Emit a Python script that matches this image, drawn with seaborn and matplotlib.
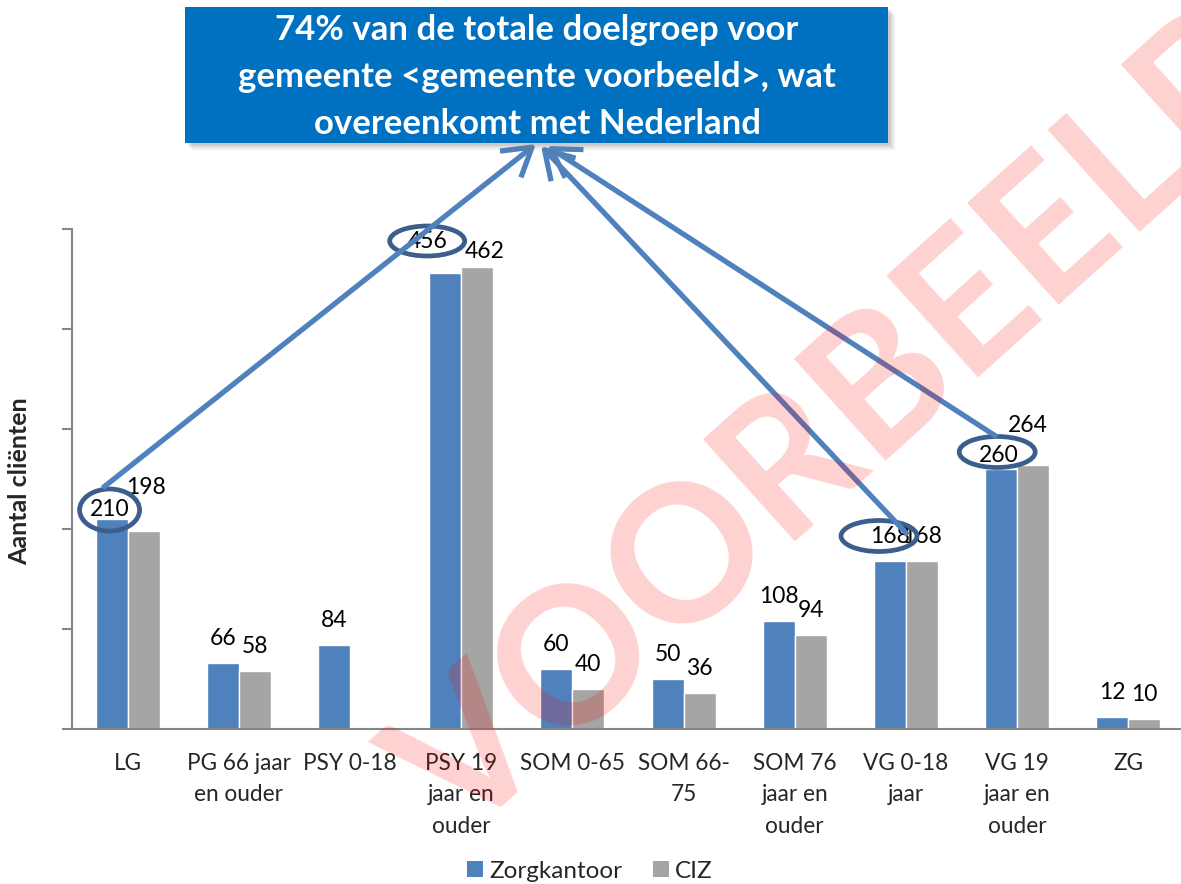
import numpy as np
import pandas as pd
import matplotlib
matplotlib.use("Agg")
import matplotlib.pyplot as plt
import seaborn as sns
from matplotlib.patches import Ellipse, Rectangle, FancyArrowPatch, Patch
from matplotlib.transforms import Affine2D

# ---------------- data ----------------
categories = ["LG", "PG 66 jaar\nen ouder", "PSY 0-18", "PSY 19\njaar en\nouder",
              "SOM 0-65", "SOM 66-\n75", "SOM 76\njaar en\nouder", "VG 0-18\njaar",
              "VG 19\njaar en\nouder", "ZG"]
zorgkantoor = [210, 66, 84, 456, 60, 50, 108, 168, 260, 12]
ciz = [198, 58, np.nan, 462, 40, 36, 94, 168, 264, 10]
series = ["Zorgkantoor", "CIZ"]
y_ticks = [0, 100, 200, 300, 400, 500]
y_label = "Aantal cliënten"
callout_text = "74% van de totale doelgroep voor\ngemeente <gemeente voorbeeld>, wat\novereenkomt met Nederland"
watermark_text = "VOORBEELD"

# ---------------- styles ----------------
colors = ["#4F81BD", "#A5A5A5"]
W, H = 1181, 884
sns.set_theme(style="white")
plt.rcParams["font.family"] = ["Lato", "DejaVu Sans"]

df = pd.DataFrame({
    "categorie": categories * 2,
    "reeks": [series[0]] * len(categories) + [series[1]] * len(categories),
    "waarde": zorgkantoor + ciz,
})

fig = plt.figure(figsize=(W / 100, H / 100), dpi=100)
ax = fig.add_axes([72 / W, 1 - 729 / H, (1184 - 72) / W, (729 - 229) / H])
PX = Affine2D().scale(1 / W, -1 / H).translate(0, 1) + fig.transFigure

sns.barplot(data=df, x="categorie", y="waarde", hue="reeks", order=categories,
            hue_order=series, palette=colors, saturation=1, width=0.576,
            errorbar=None, legend=False, ax=ax)

ax.set_xlim(-0.5, len(categories) - 0.5)
ax.set_ylim(y_ticks[0], y_ticks[-1])
ax.set_yticks(y_ticks)
ax.set_yticklabels([])
ax.set_xlabel("")
ax.set_ylabel("")
ax.set_xticks(range(len(categories)))
ax.set_xticklabels(categories, fontsize=16.3, linespacing=1.64)
ax.set_xticks(np.arange(-0.5, len(categories), 1), minor=True)
ax.tick_params(axis="x", which="major", length=0, pad=17)
ax.tick_params(axis="x", which="minor", length=7, width=1.5, color="#868686", direction="out")
ax.tick_params(axis="y", length=7, width=1.5, color="#868686", direction="out", left=True)
for s in ["top", "right"]:
    ax.spines[s].set_visible(False)
for s in ["left", "bottom"]:
    ax.spines[s].set_color("#868686")
    ax.spines[s].set_linewidth(1.5)
ax.grid(False)

# label offsets (pixels, label centre relative to bar top centre)
label_offset = {("Zorgkantoor", 0): (-2, 11), ("CIZ", 0): (2, 46),
                ("Zorgkantoor", 3): (-18, 33), ("CIZ", 3): (7, 18),
                ("Zorgkantoor", 8): (-2, 15), ("CIZ", 8): (-5, 42)}
default_offset = (0, 26.5)

bar_tops = {}
for name, cont in zip(series, ax.containers):
    for bar in cont:
        h = bar.get_height()
        if h is None or np.isnan(h):
            continue
        xc = bar.get_x() + bar.get_width() / 2
        idx = int(round(xc))
        bar_tops[(name, idx)] = (xc, h)
        dx, dy = label_offset.get((name, idx), default_offset)
        ax.annotate(f"{h:g}", xy=(xc, h), xytext=(dx * 0.72, (dy - 8.5) * 0.72),
                    textcoords="offset points", ha="center", va="baseline",
                    fontsize=16.5, color="black", zorder=5)

fig.canvas.draw()


def data_px(x, y):
    return PX.inverted().transform(ax.transData.transform((x, y)))


# highlight ellipses: (category index, centre offset px, size px, arrow start offset px)
highlights = [(0, (-2, -9), (60, 42), (-7, -22)),
              (3, (-18, -32), (75, 30), None),
              (7, (-11, -25), (76, 31), (29, -1)),
              (8, (-4, -17), (76, 31), (0, -15))]
arrow_ends = {0: (536, 144), 7: (541, 146), 8: (547, 146)}
for idx, off, size, aoff in highlights:
    xc, h = bar_tops[("Zorgkantoor", idx)]
    px, py = data_px(xc, h)
    cx, cy = px + off[0], py + off[1]
    fig.add_artist(Ellipse((cx, cy), size[0], size[1], transform=PX, fill=False,
                           edgecolor="#3B5E8C", linewidth=3.4, zorder=6))
    if aoff is not None:
        arr = FancyArrowPatch((cx + aoff[0], cy + aoff[1]), arrow_ends[idx], transform=PX,
                              arrowstyle="->,head_length=0.9,head_width=0.55",
                              mutation_scale=22, linewidth=3.8, color="#4F81BD",
                              shrinkA=0, shrinkB=0, zorder=7, capstyle="butt")
        fig.add_artist(arr)

# callout box with soft shadow
for i, a in enumerate([0.10, 0.14, 0.20]):
    d = 7 - 2 * i
    fig.add_artist(Rectangle((185 + d, 7 + d), 703, 136, transform=PX,
                             facecolor="#7F7F7F", edgecolor="none", alpha=a, zorder=8))
fig.add_artist(Rectangle((185, 7), 703, 136, transform=PX, facecolor="#0070C0",
                         edgecolor="none", zorder=9))
fig.text(537, 77, callout_text, transform=PX, ha="center", va="center", color="white",
         fontsize=25, fontweight="bold", linespacing=1.58, zorder=10)

# y label
fig.text(20, 481, y_label, transform=PX, rotation=90, ha="center", va="center",
         fontsize=18, fontweight="bold")

# legend
handles = [Patch(facecolor=c, edgecolor="none", label=s) for c, s in zip(colors, series)]
fig.legend(handles=handles, loc="center", bbox_to_anchor=(590 / W, 1 - 871 / H), ncol=2,
           frameon=False, fontsize=17.5, handlelength=0.65, handleheight=0.65,
           handletextpad=0.25, columnspacing=1.3)

# watermark
fig.text(848, 422, watermark_text, transform=PX, rotation=42, ha="center", va="center",
         fontsize=136, fontweight="bold", color=(1, 0, 0, 0.18), zorder=20)

fig.savefig("out.png", dpi=100)
